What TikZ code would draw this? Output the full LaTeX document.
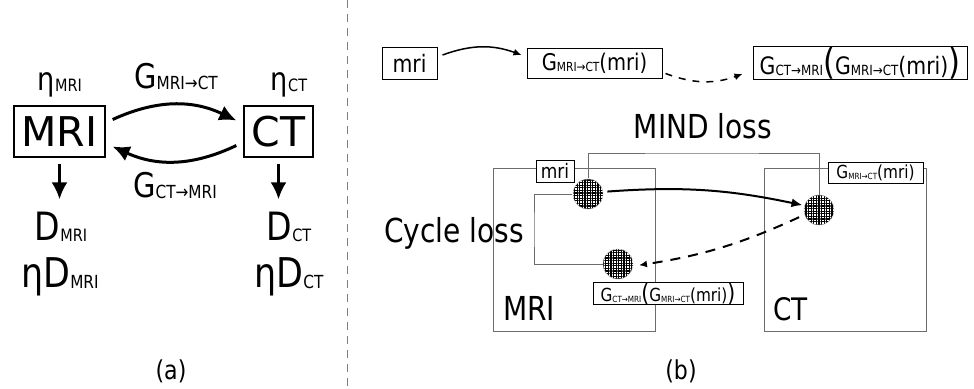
\documentclass[tikz,border=0pt]{standalone}
\usepackage{fontspec}
\setmainfont{DejaVu Sans}[FakeStretch=0.85]
\newfontfamily\plainfont{DejaVu Sans}
\usetikzlibrary{arrows.meta,patterns.meta,positioning}
\newcommand{\fsz}[1]{\fontsize{#1}{#1}\selectfont}
\newcommand{\subtx}[2]{\raisebox{-1pt}{\fsz{#1}#2}}

\begin{document}
\begin{tikzpicture}[x=1pt, y=-1pt,
    lbl/.style={inner sep=0pt, anchor=base},
    modbox/.style={draw, line width=1.3pt, inner sep=0pt, minimum height=51pt, font=\plainfont\fsz{41}},
    tagbox/.style={draw, line width=1pt, inner sep=0pt, fill=white},
    region/.style={draw=gray!85!black, line width=1pt, inner sep=0pt,
        minimum width=162pt, minimum height=163pt},
    lossline/.style={draw=gray!85!black, line width=1pt},
    voxel/.style={circle, minimum size=30pt, inner sep=0pt, draw=gray!60,
        pattern={Lines[angle=0,distance=2.6pt,line width=1.1pt]},
        preaction={pattern={Lines[angle=90,distance=2.6pt,line width=1.1pt]}}},
    bigarrow/.style={-{Latex[length=17pt,width=16pt]}, line width=3pt},
    thinarrow/.style={-{Latex[length=8pt,width=7pt]}, line width=1.5pt}]
    \useasboundingbox (0,0) rectangle (974,388);

    % 1. Panel (a): the two domains
    \node[modbox, minimum width=91pt] (mri) at (59.5,131.5) {MRI};
    \node[modbox, minimum width=69pt] (ct) at (278.5,131.5) {CT};

    \node[lbl, font=\fsz{32}] (etamri) at (60,90) {η\subtx{17}{MRI}};
    \node[lbl, font=\fsz{32}] (etact) at (289,90) {η\subtx{17}{CT}};
    \node[lbl, font=\fsz{34}] (gfwd) at (176,88) {G\subtx{18}{MRI→CT}};
    \node[lbl, font=\fsz{34}] (gbwd) at (175,197) {G\subtx{18}{CT→MRI}};
    \node[lbl, font=\fsz{39}] (dmri) at (61,240) {D\subtx{17}{MRI}};
    \node[lbl, font=\fsz{41}] (edmri) at (60,287) {ηD\subtx{18}{MRI}};
    \node[lbl, font=\fsz{39}] (dct) at (289,240) {D\subtx{17}{CT}};
    \node[lbl, font=\fsz{41}] (edct) at (289,287) {ηD\subtx{18}{CT}};

    % 2. Generators and discriminators
    \draw[bigarrow] ([xshift=7pt,yshift=12pt]mri.east) to[bend left=25] ([xshift=-7pt,yshift=11pt]ct.west);
    \draw[bigarrow] ([xshift=-7pt,yshift=-14pt]ct.west) to[bend left=25] ([xshift=7pt,yshift=-15pt]mri.east);
    \draw[bigarrow] ([yshift=-6pt]mri.south) -- ([yshift=12pt]mri.south |- dmri.north);
    \draw[bigarrow] ([yshift=-6pt]ct.south) -- ([yshift=12pt]ct.south |- dct.north);

    \node[lbl, font=\fsz{26}] (capa) at (171,379) {(a)};

    % 3. Divider
    \draw[gray, line width=1pt, dash pattern=on 8pt off 6pt] (347,0) -- (347,388);

    % 4. Panel (b): top row
    \node[tagbox, font=\fsz{24}, minimum width=55pt, minimum height=32pt] (mritop) at (409.5,63) {mri};
    \node[tagbox, font=\fsz{23}, minimum width=135pt, minimum height=30pt] (gtop) at (594.5,63)
        {G\subtx{12.5}{MRI→CT}(mri)};
    \node[tagbox, font=\fsz{24}, minimum width=214pt, minimum height=30pt] (cyctop) at (860,63)
        {G\subtx{14}{CT→MRI}{\fsz{36}(}G\subtx{14}{MRI→CT}(mri){\fsz{36})}};

    \draw[thinarrow] ([xshift=5pt,yshift=8pt]mritop.east) to[bend left=20] ([xshift=-5pt,yshift=8pt]gtop.west);
    \draw[thinarrow, dash pattern=on 7pt off 7pt] ([xshift=3pt,yshift=5pt]gtop.south east)
        to[bend right=20] ([xshift=-10pt,yshift=-11pt]cyctop.west);

    % 5. Panel (b): the two image regions
    \node[region] (mribox) at (574,249.5) {};
    \node[region] (ctbox) at (845.5,249.5) {};
    \node[lbl, anchor=base west, font=\fsz{33}] (mrilbl) at (503,320) {MRI};
    \node[lbl, anchor=base west, font=\fsz{31}] (ctlbl) at (773,320) {CT};

    \node[lbl, font=\fsz{33}] (mindlbl) at (703,138) {MIND loss};
    \node[lbl, font=\fsz{33}] (cyclbl) at (454,242) {Cycle loss};

    % loss connections
    \node[voxel] (v1) at (588,194) {};
    \node[voxel] (v2) at (618,264) {};
    \node[voxel] (v3) at (819,210) {};
    \coordinate (mindtop) at (700,153);
    \coordinate (cycleft) at (534,230);
    \draw[lossline] (v1.north) |- (mindtop) -| (v3.north);
    \draw[lossline] (v1.west) -| (cycleft) |- (v2.west);

    \node[tagbox, font=\fsz{20}, minimum width=38pt, minimum height=22pt] (mritag) at (555,171) {mri};
    \node[tagbox, font=\fsz{18}, minimum width=95pt, minimum height=21pt] (gtag) at (875.5,172.5)
        {G\subtx{8.5}{MRI→CT}(mri)};
    \node[tagbox, font=\fsz{18}, minimum width=150pt, minimum height=21pt] (cyctag) at (668,293.5)
        {G\subtx{8.5}{CT→MRI}{\fsz{24}(}G\subtx{8.5}{MRI→CT}(mri){\fsz{24})}};

    \draw[-{Latex[length=11pt,width=9pt]}, line width=2pt, shorten <=4pt, shorten >=2pt]
        (v1.8) to[bend left=8] (v3.163);
    \draw[thinarrow, line width=2pt, dash pattern=on 10pt off 8pt, shorten <=6pt, shorten >=6pt]
        (v3.198) to[bend left=8] (v2.-8);

    \node[lbl, font=\fsz{26}] (capb) at (681,379) {(b)};
\end{tikzpicture}
\end{document}
